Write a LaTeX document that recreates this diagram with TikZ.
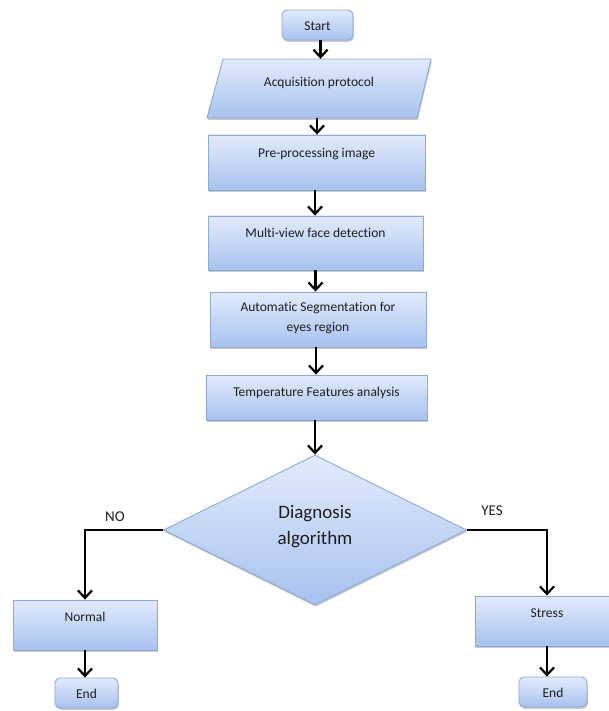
\documentclass[tikz,border=0pt]{standalone}
\usepackage{fontspec}
\setmainfont[Ligatures=NoCommon]{Carlito}
\usetikzlibrary{arrows.meta,shapes.geometric,shadows}
\definecolor{boxtop}{HTML}{E2EBFC}
\definecolor{boxbot}{HTML}{A7C2EF}
\definecolor{boxline}{HTML}{8EA9D8}
\definecolor{ink}{HTML}{1E1E1E}
\begin{document}
\begin{tikzpicture}[x=1pt,y=-1pt,
  shaded/.style={draw=boxline, line width=0.9pt, top color=boxtop, bottom color=boxbot,
    drop shadow={shadow xshift=0.8pt, shadow yshift=-1.8pt, opacity=0.35, fill=black!60}},
  box/.style={shaded, rectangle, inner sep=0pt},
  term/.style={shaded, rectangle, rounded corners=5pt, inner sep=0pt},
  anchorbox/.style={rectangle, inner sep=0pt},
  txt/.style={font=\fontsize{13.5}{19.5}\selectfont, text=ink, align=center, inner sep=0pt},
  bigtxt/.style={font=\fontsize{19}{26}\selectfont, text=ink, align=center, inner sep=0pt},
  lbl/.style={font=\fontsize{15}{18}\selectfont, text=ink, inner sep=0pt},
  flow/.style={line width=2.2pt, draw=black, -{Straight Barb[length=7.5pt,width=14pt]}},
]
\useasboundingbox (0,0) rectangle (609,711);
\clip (0,0) rectangle (609,711);
\fill[white] (0,0) rectangle (609,711);

% terminator at the top
\node[term, minimum width=71pt, minimum height=30pt] (start) at (317.5,25) {};
\node[txt] (startT) at (317.5,26) {Start};

% input step (parallelogram)
\path[shaded] (223,59) -- (431,59) -- (417,118) -- (207,118) -- cycle;
\node[anchorbox, minimum width=210pt, minimum height=59pt] (acq) at (319,88.5) {};
\node[txt] (acqT) at (319,83) {Acquisition protocol};

% processing steps
\node[box, minimum width=217pt, minimum height=55pt] (pre) at (316.5,162.5) {};
\node[txt] (preT) at (316.5,154) {Pre-processing image};

\node[box, minimum width=215pt, minimum height=54pt] (multi) at (315.5,243) {};
\node[txt] (multiT) at (315.5,233) {Multi-view face detection};

\node[box, minimum width=216pt, minimum height=55pt] (seg) at (318,319.5) {};
\node[txt] (segT) at (318,318) {Automatic Segmentation for\\eyes region};

\node[box, minimum width=221pt, minimum height=45pt] (temp) at (316.5,397.5) {};
\node[txt] (tempT) at (316.5,393) {Temperature Features analysis};

% decision
\node[shaded, diamond, minimum width=303pt, minimum height=150pt, inner sep=0pt] (dia) at (315,530) {};
\node[bigtxt] (diaT) at (315,526.5) {Diagnosis\\algorithm};

% outcomes
\node[box, minimum width=144pt, minimum height=50pt] (normal) at (85,625) {};
\node[txt] (normalT) at (85,617) {Normal};
\node[term, minimum width=63pt, minimum height=30pt] (endL) at (86.5,693) {};
\node[txt] (endLT) at (86.5,694) {End};

\node[box, minimum width=144pt, minimum height=50pt] (stress) at (547,621) {};
\node[txt] (stressT) at (547,613) {Stress};
\node[term, minimum width=68pt, minimum height=30pt] (endR) at (553,692) {};
\node[txt] (endRT) at (553,693) {End};

% branch labels
\node[lbl] (no) at (115,517) {NO};
\node[lbl] (yes) at (492,511) {YES};

% connectors
\draw[flow] (start.south -| acq.north) ++(1.5,0) coordinate (s1) -- (s1 |- acq.north);
\draw[flow] (acq.south) ++(-2,0) coordinate (s2) -- (s2 |- pre.north);
\draw[flow] (pre.south) ++(-1.5,0) coordinate (s3) -- (s3 |- multi.north);
\draw[flow] (multi.south) -- (multi.south |- seg.north);
\draw[flow] (seg.south) ++(-2,0) coordinate (s5) -- (s5 |- temp.north);
\draw[flow] (temp.south) ++(-1.5,0) coordinate (s6) -- (s6 |- dia.north);
\draw[flow] (dia.west) -| (normal.north);
\draw[flow] (dia.east) -| (stress.north);
\draw[flow] (normal.south) -- (normal.south |- endL.north);
\draw[flow] (stress.south) -- (stress.south |- endR.north);
\end{tikzpicture}
\end{document}
